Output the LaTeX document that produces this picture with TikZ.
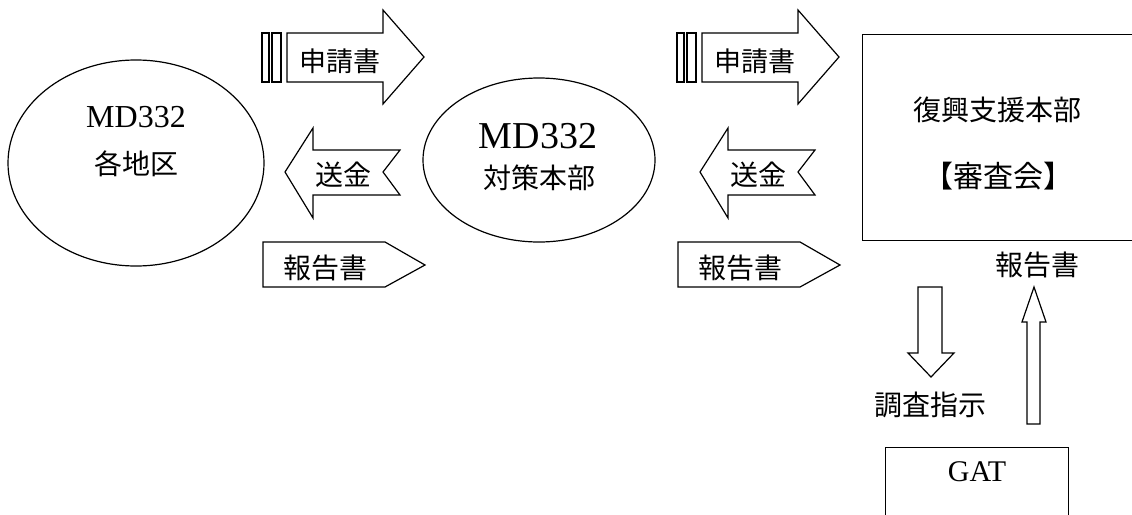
\documentclass[tikz,border=0pt]{standalone}
\usepackage{fontspec}
\newfontfamily\jp{Noto Sans CJK JP}
\newfontfamily\lat{Liberation Serif}
\usepackage{tikz}
\usetikzlibrary{shapes,arrows}
\usetikzlibrary{positioning}
\usetikzlibrary{calc}
\tikzstyle{area} = [draw, ellipse, line width=1.2pt, inner sep=0pt]
\tikzstyle{board} = [draw, rectangle, line width=1.2pt, inner sep=0pt, anchor=north west]
\tikzstyle{flow} = [draw, line width=1.2pt, fill=white, line join=miter]
\tikzstyle{jtext} = [font=\jp\fontsize{28}{28}\selectfont, inner sep=0pt]
\tikzstyle{ltext} = [font=\lat\fontsize{32}{32}\selectfont, inner sep=0pt]

\begin{document}
\begin{tikzpicture}[x=1pt, y=-1pt]
    \path [use as bounding box, clip] (0,0) rectangle (1132,514);
    %% Districts and committee
    \node [area, minimum width=256pt, minimum height=206pt] (D) at (136,163) {};
    \node [ltext] (Dcode) at (136,117) {MD332};
    \node [jtext] (Dname) at (136,164) {各地区};
    \node [area, minimum width=232pt, minimum height=164pt] (C) at (539,160) {};
    \node [ltext, font=\lat\fontsize{38}{38}\selectfont] (Ccode) at (538,136) {MD332};
    \node [jtext] (Cname) at (539,178) {対策本部};
    %% Headquarters
    \node [board, minimum width=320pt, minimum height=206pt] (HQ) at (862,34) {};
    \node [jtext] (HQname) at (997,110) {復興支援本部};
    \node [jtext, font=\jp\fontsize{30}{30}\selectfont] (HQsub) at (998,176) {【審査会】};
    \node [jtext] (HQrep) at (1037,265) {報告書};
    \node [jtext] (HQord) at (930,405) {調査指示};
    %% GAT
    \node [board, minimum width=183pt, minimum height=100pt] (G) at (885,447) {};
    \node [ltext, font=\lat\fontsize{30}{30}\selectfont] (Gname) at (977,472) {GAT};
    %% Flows
    \foreach \dx/\n in {0/a, 415/b} {
      \begin{scope}[xshift=\dx pt]
        \draw [flow] (262,33) rectangle (269,82);
        \draw [flow] (272,33) rectangle (281,82);
        \draw [flow] (287,33) -- (383,33) -- (383,10) -- (424,57)
          -- (383,104) -- (383,82) -- (287,82) -- cycle;
        \node [jtext, font=\jp\fontsize{27}{27}\selectfont] (apply\n) at (340,61) {申請書};
        \draw [flow] (285,172) -- (313,128) -- (313,150) -- (400,150)
          -- (383,172) -- (400,195) -- (313,195) -- (313,218) -- cycle;
        \node [jtext] (money\n) at (343,175) {送金};
        \draw [flow] (263,242) -- (385,242) -- (425,265) -- (385,287)
          -- (263,287) -- cycle;
        \node [jtext] (report\n) at (325,268) {報告書};
      \end{scope}
    }
    \draw [flow] (918,287) -- (942,287) -- (942,353) -- (954,353)
      -- (931,377) -- (908,353) -- (918,353) -- cycle;
    \draw [flow] (1027,424) -- (1027,322) -- (1022,322) -- (1034,287)
      -- (1046,322) -- (1040,322) -- (1040,424) -- cycle;
\end{tikzpicture}
\end{document}
